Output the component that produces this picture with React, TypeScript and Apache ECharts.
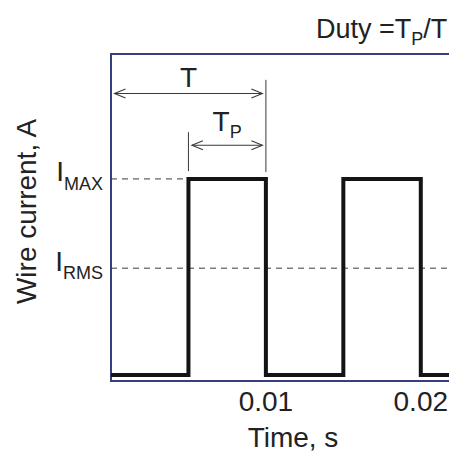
import React, { useEffect, useRef } from 'react';
import * as echarts from 'echarts';

// Rectangular current pulses: width TP, repeating with period T
const pulseStarts = [0.005, 0.015]; // s
const pulseEnds = [0.01, 0.02]; // s
const baseCurrent = 0.018;
const maxCurrent = 0.618;
const rmsCurrent = 0.345;

const timeMin = 0;
const timeMax = 0.0235;
const timeStep = 0.01;
const timeTicks = [0.01, 0.02];
const timeTickLabels = ['0.01', '0.02'];

const currentMin = 0;
const currentMax = 1;
const currentLevels = [rmsCurrent, maxCurrent];
const currentLevelNames = ['RMS', 'MAX'];

// Dimension arrows for T and TP
const dimFrom = [0, 0.005];
const dimTo = [0.01, 0.01];
const dimLevel = [0.879, 0.721];
const dimLabel = ['T', 'T'];
const dimSub = ['', 'P'];

// Extension lines that the arrows point to
const guideTime = [0.01, 0.005];
const guideTop = [0.921, 0.761];
const guideBottom = [0.639, 0.642];

const FONT = '"Liberation Sans", Arial, Helvetica, sans-serif';
const TEXT = '#222222';
const FRAME = '#34407e';
const INK = '#141414';
const GUIDE = '#3a3a3a';

const MAIN_SIZE = 28;
const SUB_SIZE = 18;
const TITLE_SIZE = 27;
const TIP_GAP = 3.5;
const HEAD_L = 11;
const HEAD_W = 4.5;
const LABEL_RISE = [7, 14.5];

const subRich = (mainSize: number, mainPadBottom: number, subPadTop: number) => ({
  m: { fontSize: mainSize, fontFamily: FONT, fill: TEXT, color: TEXT, padding: [0, 0, mainPadBottom, 0] },
  s: { fontSize: SUB_SIZE, fontFamily: FONT, fill: TEXT, color: TEXT, padding: [subPadTop, 0, 0, 0] },
});

function buildWave(): number[][] {
  const pts: number[][] = [[timeMin, baseCurrent]];
  pulseStarts.forEach((s, i) => {
    pts.push([s, baseCurrent], [s, maxCurrent], [pulseEnds[i], maxCurrent], [pulseEnds[i], baseCurrent]);
  });
  pts.push([timeMax, baseCurrent]);
  return pts;
}

export default function App() {
  const ref = useRef<HTMLDivElement>(null);

  useEffect(() => {
    if (!ref.current) return;
    const chart = echarts.init(ref.current, null, { renderer: 'svg' });

    const option: any = {
      animation: false,
      backgroundColor: '#ffffff',
      textStyle: { fontFamily: FONT },
      grid: {
        left: 111,
        top: 54,
        width: 364,
        height: 330,
        show: true,
        borderColor: FRAME,
        borderWidth: 2,
        backgroundColor: 'transparent',
      },
      xAxis: {
        type: 'value',
        min: timeMin,
        max: timeMax,
        interval: timeStep,
        name: 'Time, s',
        nameLocation: 'middle',
        nameGap: 42,
        nameTextStyle: { fontSize: MAIN_SIZE, color: TEXT, fontFamily: FONT },
        axisLine: { show: false },
        axisTick: { show: false },
        splitLine: { show: false },
        axisLabel: {
          customValues: timeTicks,
          formatter: (v: number) => {
            const i = timeTicks.findIndex((t) => Math.abs(t - v) < 1e-9);
            return i >= 0 ? timeTickLabels[i] : '';
          },
          fontSize: MAIN_SIZE,
          color: TEXT,
          fontFamily: FONT,
          margin: 6,
        },
      },
      yAxis: {
        type: 'value',
        min: currentMin,
        max: currentMax,
        name: 'Wire current, A',
        nameLocation: 'middle',
        nameRotate: 90,
        nameGap: 71,
        nameTextStyle: { fontSize: MAIN_SIZE, color: TEXT, fontFamily: FONT, padding: [0, 0, 0, 12] },
        axisLine: { show: false },
        axisTick: { show: false },
        splitLine: { show: false },
        axisLabel: {
          customValues: currentLevels,
          formatter: (v: number) => {
            const i = currentLevels.findIndex((c) => Math.abs(c - v) < 1e-9);
            return i >= 0 ? `{m|I}{s|${currentLevelNames[i]}}` : '';
          },
          rich: subRich(MAIN_SIZE, 14, 10),
          margin: 8,
          color: TEXT,
          fontFamily: FONT,
        },
      },
      graphic: [
        {
          type: 'text',
          x: 316,
          y: 38,
          style: {
            text: '{m|Duty =T}{s|P}{m|/T}',
            rich: subRich(TITLE_SIZE, 18, 2),
            align: 'left',
            verticalAlign: 'middle',
            fill: TEXT,
          },
        },
      ],
      series: [
        {
          type: 'line',
          data: [
            [timeMin, rmsCurrent],
            [timeMax, rmsCurrent],
          ],
          showSymbol: false,
          silent: true,
          z: 1,
          lineStyle: { color: GUIDE, width: 1, type: [6, 5] },
        },
        {
          type: 'line',
          data: [
            [timeMin, maxCurrent],
            [pulseStarts[0], maxCurrent],
          ],
          showSymbol: false,
          silent: true,
          z: 1,
          lineStyle: { color: GUIDE, width: 1, type: [6, 5] },
        },
        {
          type: 'line',
          data: buildWave(),
          showSymbol: false,
          silent: true,
          z: 3,
          lineStyle: { color: INK, width: 4, join: 'miter', cap: 'butt' },
        },
        {
          type: 'custom',
          silent: true,
          z: 2,
          data: guideTime.map((t, i) => [t, guideTop[i], guideBottom[i]]),
          renderItem: (_params: any, api: any) => {
            const a = api.coord([api.value(0), api.value(1)]);
            const b = api.coord([api.value(0), api.value(2)]);
            return {
              type: 'line',
              shape: { x1: a[0], y1: a[1], x2: b[0], y2: b[1] },
              style: { stroke: GUIDE, lineWidth: 1 },
            };
          },
        },
        {
          type: 'custom',
          silent: true,
          z: 4,
          data: dimFrom.map((f, i) => [f, dimTo[i], dimLevel[i]]),
          renderItem: (params: any, api: any) => {
            const i = params.dataIndex;
            const a = api.coord([api.value(0), api.value(2)]);
            const b = api.coord([api.value(1), api.value(2)]);
            const y = a[1];
            const x0 = a[0] + TIP_GAP;
            const x1 = b[0] - TIP_GAP;
            const lineStyle = { stroke: GUIDE, lineWidth: 1.1, fill: null };
            const sub = dimSub[i];
            return {
              type: 'group',
              children: [
                { type: 'line', shape: { x1: x0, y1: y, x2: x1, y2: y }, style: lineStyle },
                {
                  type: 'polyline',
                  shape: { points: [[x0 + HEAD_L, y - HEAD_W], [x0, y], [x0 + HEAD_L, y + HEAD_W]] },
                  style: lineStyle,
                },
                {
                  type: 'polyline',
                  shape: { points: [[x1 - HEAD_L, y - HEAD_W], [x1, y], [x1 - HEAD_L, y + HEAD_W]] },
                  style: lineStyle,
                },
                {
                  type: 'text',
                  x: (a[0] + b[0]) / 2,
                  y: y - LABEL_RISE[i],
                  style: {
                    text: sub ? `{m|${dimLabel[i]}}{s|${sub}}` : `{m|${dimLabel[i]}}`,
                    rich: subRich(MAIN_SIZE, 18, 2),
                    align: 'center',
                    verticalAlign: 'middle',
                    fill: TEXT,
                  },
                },
              ],
            };
          },
        },
      ],
    };

    chart.setOption(option);
    return () => chart.dispose();
  }, []);

  return (
    <div
      style={{
        position: 'fixed',
        left: 0,
        top: 0,
        width: 449,
        height: 456,
        overflow: 'hidden',
        background: '#ffffff',
      }}
    >
      <div ref={ref} style={{ width: 500, height: 456 }} />
    </div>
  );
}
